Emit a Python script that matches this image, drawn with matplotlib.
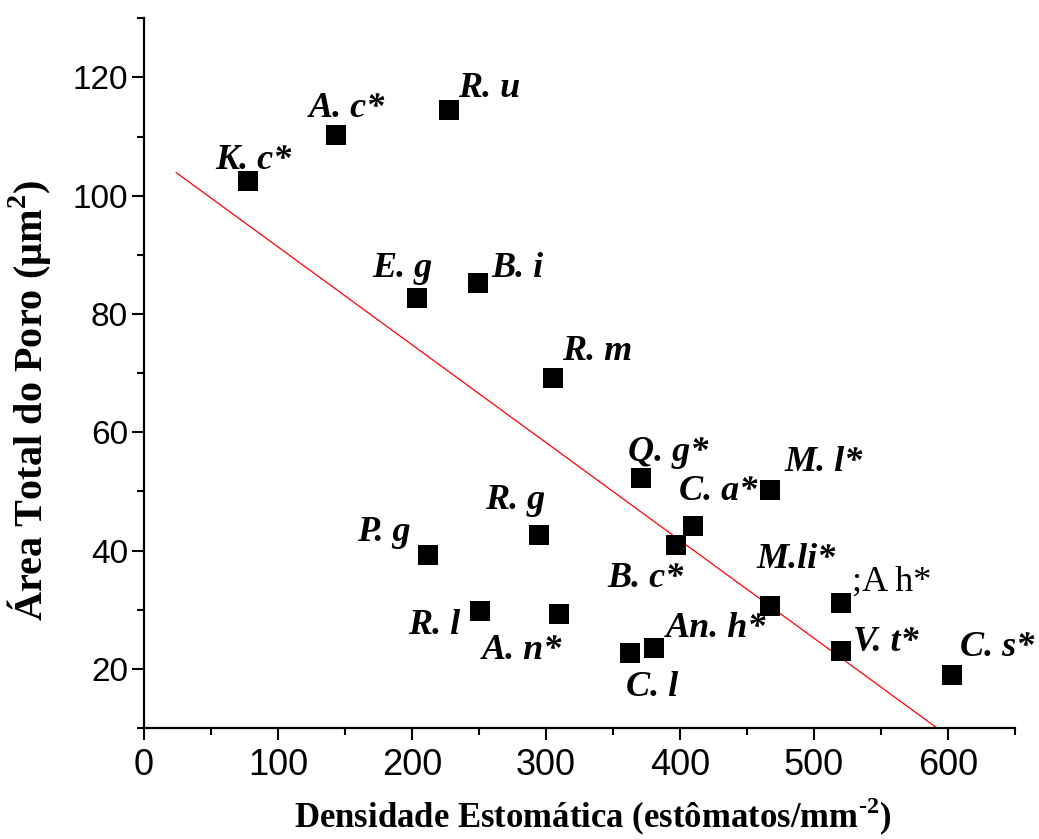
import numpy as np
import matplotlib
matplotlib.use("Agg")
import matplotlib.pyplot as plt
from matplotlib.ticker import MultipleLocator

# dados
especies = ["K. c*", "A. c*", "R. u", "E. g", "B. i", "R. m", "Q. g*", "M. l*",
            "C. a*", "B. c*", "M.li*", ";A h*", "V. t*", "P. g", "R. g", "R. l",
            "A. n*", "C. l", "An. h*", "C. s*"]
densidade = [78, 143, 228, 204, 249, 305, 371, 467,
             410, 397, 467, 520, 520, 212, 295, 251,
             310, 363, 381, 603]
area_poro = [102.4, 110.3, 114.4, 82.7, 85.3, 69.2, 52.2, 50.3,
             44.1, 41.0, 30.7, 31.2, 23.1, 39.2, 42.7, 29.8,
             29.3, 22.7, 23.6, 19.0]

# reta de regressao (extremos)
reta_x = [24, 592]
reta_y = [103.9, 10.0]

# deslocamento dos rotulos em pixels (dx, dy) a partir do ponto
desloc = [(-33, 12), (-27, 18), (9, 13), (-45, 21), (14, 6), (9, 18), (-13, 17), (15, 19),
          (-14, 26), (-68, -42), (-13, 38), (11, 12), (12, 0), (-71, 14), (-54, 26), (-72, -23),
          (-77, -45), (-4, -43), (12, 11), (8, 19)]

plt.rcParams["mathtext.fontset"] = "custom"
plt.rcParams["mathtext.rm"] = "Liberation Serif:bold"
plt.rcParams["mathtext.bf"] = "Liberation Serif:bold"

fig = plt.figure(figsize=(10.39, 8.39), dpi=100)
ax = fig.add_axes([0.1386, 0.1323, 0.838, 0.846])

ax.plot(reta_x, reta_y, color="red", lw=0.9, zorder=2)
ax.scatter(densidade, area_poro, marker="s", s=200, color="black", zorder=3, linewidths=0)

for i in range(len(especies)):
    dx, dy = desloc[i]
    if especies[i] == ";A h*":
        ax.annotate(especies[i], (densidade[i], area_poro[i]), xytext=(dx * 0.72, dy * 0.72),
                    textcoords="offset points", ha="left", va="baseline",
                    family="Liberation Serif", fontsize=26)
    else:
        ax.annotate(especies[i], (densidade[i], area_poro[i]), xytext=(dx * 0.72, dy * 0.72),
                    textcoords="offset points", ha="left", va="baseline",
                    family="Liberation Serif", weight="bold", style="italic", fontsize=26)

ax.set_xlim(0, 650)
ax.set_ylim(10, 130)
ax.xaxis.set_major_locator(MultipleLocator(100))
ax.xaxis.set_minor_locator(MultipleLocator(50))
ax.yaxis.set_major_locator(MultipleLocator(20))
ax.yaxis.set_minor_locator(MultipleLocator(10))
ax.set_yticks(range(20, 121, 20))

for lado in ["top", "right"]:
    ax.spines[lado].set_visible(False)
for lado in ["left", "bottom"]:
    ax.spines[lado].set_linewidth(1.6)

ax.tick_params(which="major", direction="out", length=8.5, width=1.5)
ax.tick_params(which="minor", direction="out", length=5, width=1.5)
ax.tick_params(axis="y", which="major", pad=3)
ax.tick_params(axis="x", which="major", pad=6)

for t in ax.get_yticklabels():
    t.set_family("Liberation Sans")
    t.set_fontsize(24)
for t in ax.get_xticklabels():
    t.set_family("Liberation Sans")
    t.set_fontsize(26)

ax.set_xlabel(r"Densidade Estomática (estômatos/mm$^{\text{-}2}$)", family="Liberation Serif",
              weight="bold", fontsize=25)
ax.set_ylabel("Área Total do Poro (μm$^{2}$)", family="Liberation Serif",
              weight="bold", fontsize=29)
ax.xaxis.set_label_coords(0.515, -0.095)
ax.yaxis.set_label_coords(-0.105, 0.462)

fig.savefig("out.png", dpi=100)
